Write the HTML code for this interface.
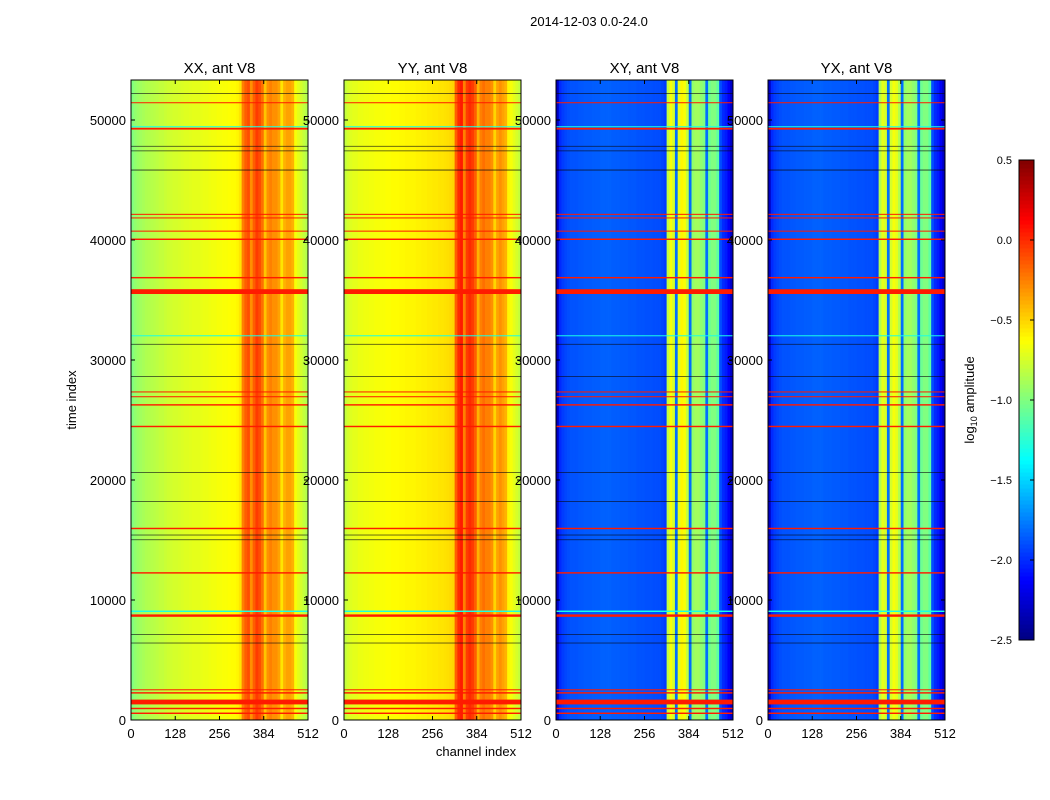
<!DOCTYPE html>
<html><head><meta charset="utf-8"><style>
body{margin:0;background:#fff;}
svg{display:block;font-family:"Liberation Sans",sans-serif;}
</style></head><body>
<svg id="chart" width="1050" height="800">
<text x="589" y="26" font-size="13" text-anchor="middle">2014-12-03 0.0-24.0</text>
<text x="476" y="756" font-size="13" text-anchor="middle">channel index</text>
<text transform="translate(76,400) rotate(-90)" font-size="13" text-anchor="middle">time index</text>
<text transform="translate(974,400) rotate(-90)" font-size="13" text-anchor="middle">log<tspan font-size="9" dy="3">10</tspan><tspan dy="-3"> amplitude</tspan></text>
</svg>
<script>
const panelTitles=["XX, ant V8","YY, ant V8","XY, ant V8","YX, ant V8"];
const xTicks=[0,128,256,384,512];
const yTicks=[0,10000,20000,30000,40000,50000];
const cbTicks=[0.5,0.0,-0.5,-1.0,-1.5,-2.0,-2.5];
// column profiles: 64 blocks of 8 channels, log10 amplitude
const colsXX=[-1.0,-0.95,-0.92,-0.9,-0.88,-0.86,-0.85,-0.84,-0.83,-0.82,-0.8,-0.8,-0.78,-0.77,-0.76,-0.75,-0.75,-0.74,-0.73,-0.72,-0.72,-0.71,-0.7,-0.7,-0.7,-0.69,-0.68,-0.68,-0.67,-0.66,-0.66,-0.65,-0.65,-0.64,-0.64,-0.63,-0.62,-0.62,-0.6,-0.55,-0.25,-0.15,-0.1,-0.3,-0.15,-0.05,-0.1,-0.2,-0.45,-0.3,-0.25,-0.3,-0.3,-0.35,-0.55,-0.4,-0.35,-0.35,-0.4,-0.65,-0.7,-0.75,-0.8,-0.85];
const colsYY=[-0.8,-0.75,-0.72,-0.7,-0.7,-0.68,-0.68,-0.67,-0.67,-0.66,-0.66,-0.65,-0.65,-0.64,-0.64,-0.63,-0.63,-0.62,-0.62,-0.62,-0.61,-0.61,-0.6,-0.6,-0.6,-0.6,-0.59,-0.59,-0.58,-0.58,-0.57,-0.57,-0.56,-0.56,-0.55,-0.55,-0.54,-0.53,-0.52,-0.5,-0.15,0.0,0.05,-0.25,-0.05,0.0,-0.05,-0.15,-0.4,-0.25,-0.2,-0.25,-0.25,-0.3,-0.5,-0.35,-0.3,-0.35,-0.4,-0.6,-0.65,-0.7,-0.75,-0.8];
const colsXY=[-2.3,-2.0,-1.95,-1.92,-1.9,-1.88,-1.88,-1.88,-1.87,-1.87,-1.86,-1.86,-1.86,-1.85,-1.85,-1.85,-1.84,-1.84,-1.84,-1.84,-1.85,-1.85,-1.85,-1.86,-1.86,-1.86,-1.87,-1.87,-1.87,-1.88,-1.88,-1.88,-1.89,-1.89,-1.89,-1.9,-1.9,-1.9,-1.92,-1.95,-0.8,-0.65,-0.75,-1.8,-0.7,-0.6,-0.65,-0.8,-1.8,-0.95,-0.9,-0.9,-0.95,-1.0,-1.8,-1.05,-1.0,-1.0,-1.1,-1.9,-2.0,-2.05,-2.15,-2.3];
const colsYX=[-2.3,-2.0,-1.95,-1.92,-1.9,-1.88,-1.88,-1.88,-1.87,-1.87,-1.86,-1.86,-1.86,-1.85,-1.85,-1.85,-1.84,-1.84,-1.84,-1.84,-1.85,-1.85,-1.85,-1.86,-1.86,-1.86,-1.87,-1.87,-1.87,-1.88,-1.88,-1.88,-1.89,-1.89,-1.89,-1.9,-1.9,-1.9,-1.92,-1.95,-0.85,-0.7,-0.75,-1.8,-0.75,-0.65,-0.7,-0.85,-1.8,-0.95,-0.9,-0.9,-0.95,-1.0,-1.8,-1.05,-1.0,-1.0,-1.1,-1.9,-2.0,-2.05,-2.15,-2.3];
const panelCols=[colsXX,colsYY,colsXY,colsYX];
// flagged time rows: start time, thickness (time units), value
const rowTimes=[500,900,1300,2200,2500,6400,7100,8600,9000,12200,15000,15400,15900,18200,20600,24400,26200,26900,27300,28600,31300,32000,35500,36800,40000,40700,41800,42100,45800,47400,47800,49200,49400,51400,52200];
const rowWidths=[120,120,400,120,60,40,40,200,120,120,40,40,120,40,50,120,120,80,80,40,40,60,400,120,120,80,80,80,60,50,40,150,80,80,40];
const rowVals=[0.05,0.05,0.05,0.05,0.05,-2.9,-2.9,0.05,-1.3,0.05,-2.9,-2.9,0.05,-2.9,-2.9,0.05,0.05,0.05,0.05,-2.9,-2.9,-1.3,0.05,0.05,0.05,0.05,0.05,0.05,-2.9,-2.9,-2.9,0.05,-1.3,0.05,-2.9];
const panelX=[131,344,556,768];
const PW=177, Y0=720, Y1=80, TMAX=53333, VMIN=-2.5, VMAX=0.5;
const svg=document.getElementById('chart');
const NS='http://www.w3.org/2000/svg';
function mk(t,a,p){const e=document.createElementNS(NS,t);for(const k in a)e.setAttribute(k,a[k]);(p||svg).appendChild(e);return e;}
function yS(t){return Y0-(t/TMAX)*(Y0-Y1);}
function xS(p,c){return panelX[p]+c/512*PW;}
function jet(v){if(v<-2.7)return 'rgb(10,10,20)';let t=(v-VMIN)/(VMAX-VMIN);t=Math.max(0,Math.min(1,t));
 const f=x=>Math.round(255*Math.max(0,Math.min(1,x)));
 const r=f(Math.min(4*t-1.5,-4*t+4.5)),g=f(Math.min(4*t-0.5,-4*t+3.5)),b=f(Math.min(4*t+0.5,-4*t+2.5));
 return `rgb(${r},${g},${b})`;}
for(let p=0;p<4;p++){
 const g=mk('g',{});
 
 
 const cols=panelCols[p];
 cols.forEach((v,i)=>{const x0=xS(p,i*8),x1=xS(p,(i+1)*8);
  const r=mk('rect',{x:x0,y:Y1,width:x1-x0+0.4,height:Y0-Y1,fill:jet(v)},g);
  
  });
 rowTimes.forEach((t,i)=>{const ya=yS(t+rowWidths[i]),yb=yS(t);
  const r=mk('rect',{x:panelX[p],y:ya,width:PW,height:Math.max(rowVals[i]<-2.7?0.6:1,yb-ya),fill:jet(rowVals[i])},g);
  
  });
 mk('rect',{x:panelX[p],y:Y1,width:PW,height:Y0-Y1,fill:'none',stroke:'#000','stroke-width':1},g);
 yTicks.forEach(t=>{mk('line',{x1:panelX[p],x2:panelX[p]+4,y1:yS(t),y2:yS(t),stroke:'#000'},g);mk('line',{x1:panelX[p]+PW,x2:panelX[p]+PW-4,y1:yS(t),y2:yS(t),stroke:'#000'},g);});
 xTicks.forEach(c=>{const x=xS(p,c);mk('line',{x1:x,x2:x,y1:Y0,y2:Y0-4,stroke:'#000'},g);mk('line',{x1:x,x2:x,y1:Y1,y2:Y1+4,stroke:'#000'},g);
  const e=mk('text',{x:x,y:Y0+18,'font-size':13,'text-anchor':'middle'});e.textContent=c;
  
  });
 const tt=mk('text',{x:panelX[p]+PW/2,y:73,'font-size':15,'text-anchor':'middle'});tt.textContent=panelTitles[p];
 
 
}
for(let p=0;p<4;p++){
 yTicks.forEach(t=>{const e=mk('text',{x:panelX[p]-5,y:yS(t)+5,'font-size':13,'text-anchor':'end'});e.textContent=t;
  
  });
}
// colorbar
const cb=mk('g',{});


const CX=1019,CW=15,CT=160,CB=640;
for(let i=0;i<120;i++){const v=VMIN+(i+0.5)/120*(VMAX-VMIN);const y=CB-(i+1)/120*(CB-CT);
 mk('rect',{x:CX,y:y,width:CW,height:(CB-CT)/120+0.5,fill:jet(v)},cb);}
mk('rect',{x:CX,y:CT,width:CW,height:CB-CT,fill:'none',stroke:'#000'},cb);
cbTicks.forEach(v=>{const y=CB-(v-VMIN)/(VMAX-VMIN)*(CB-CT);
 mk('line',{x1:CX+CW-4,x2:CX+CW,y1:y,y2:y,stroke:'#000'},cb);
 const e=mk('text',{x:1012,y:y+4,'font-size':11,'text-anchor':'end'},cb);e.textContent=(v<0?'\u2212':'')+Math.abs(v).toFixed(1);
 
 });
</script>
</body></html>
